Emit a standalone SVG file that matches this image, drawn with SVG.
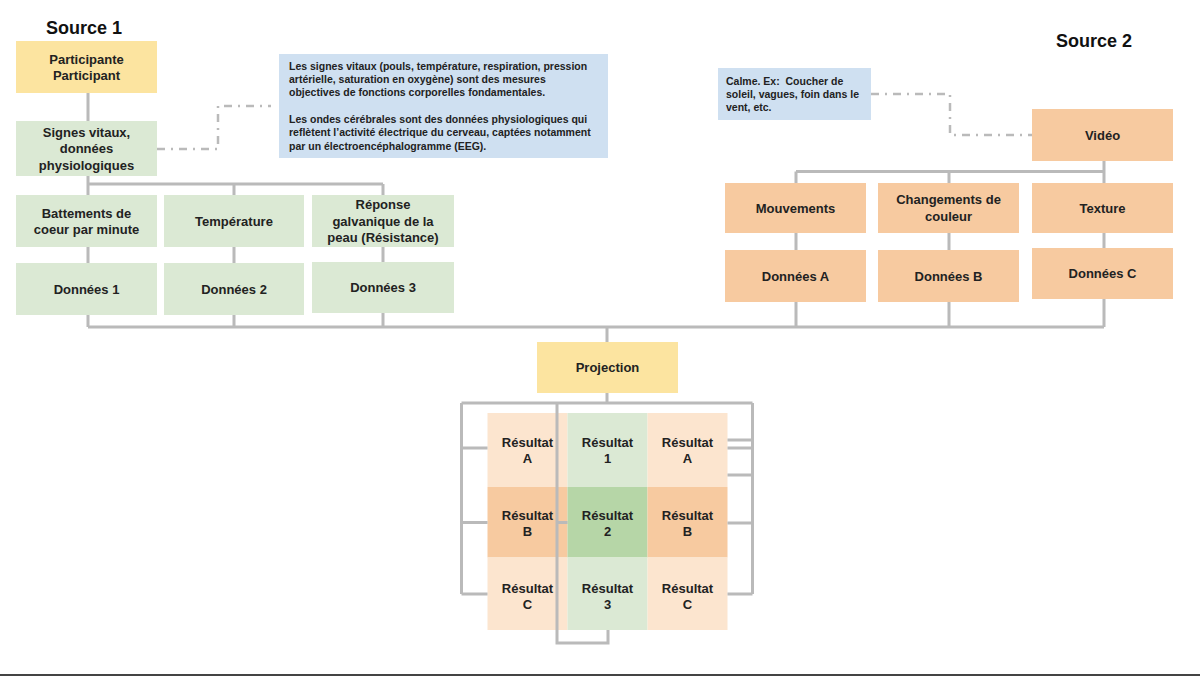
<svg xmlns="http://www.w3.org/2000/svg" width="1200" height="676" viewBox="0 0 1200 676">
<style>
text{font-family:"Liberation Sans",Arial,sans-serif;font-weight:bold;fill:#222}
.t{font-size:13px;text-anchor:middle}
.n{font-size:10.5px}
.h{font-size:18px;fill:#111}
.yel{fill:#fce4a0}
.grn{fill:#dbe9d4}
.blu{fill:#cfe0f1}
.org{fill:#f7caa0}
.lorg{fill:#fce5cf}
.mgrn{fill:#b6d6a7}
.c{fill:none;stroke:#bababa;stroke-width:3}
.d{fill:none;stroke:#bababa;stroke-width:2.5;stroke-dasharray:8 6 2 6}
</style>
<rect width="1200" height="676" fill="#ffffff"/>
<text class="h" x="46" y="34">Source 1</text>
<text class="h" x="1056" y="46.5">Source 2</text>

<g id="participant"><rect class="yel" x="16" y="41" width="141" height="52"/><text class="t" x="86.5" y="64">Participante</text><text class="t" x="86.5" y="80">Participant</text></g>
<g id="signes"><rect class="grn" x="16" y="121" width="141" height="55"/><text class="t" x="86.5" y="136.5">Signes vitaux,</text><text class="t" x="86.5" y="153">données</text><text class="t" x="86.5" y="169.5">physiologiques</text></g>
<g id="note1"><rect class="blu" x="279" y="54" width="329" height="104"/>
<text class="n" x="289" y="70">Les signes vitaux (pouls, température, respiration, pression</text>
<text class="n" x="289" y="83">artérielle, saturation en oxygène) sont des mesures</text>
<text class="n" x="289" y="96">objectives de fonctions corporelles fondamentales.</text>
<text class="n" x="289" y="123">Les ondes cérébrales sont des données physiologiques qui</text>
<text class="n" x="289" y="136">reflètent l’activité électrique du cerveau, captées notamment</text>
<text class="n" x="289" y="150">par un électroencéphalogramme (EEG).</text></g>
<g id="battements"><rect class="grn" x="16" y="195" width="141" height="52"/><text class="t" x="86.5" y="217.5">Battements de</text><text class="t" x="86.5" y="234">coeur par minute</text></g>
<g id="temperature"><rect class="grn" x="164" y="195" width="140" height="52"/><text class="t" x="234" y="225.5">Température</text></g>
<g id="reponse"><rect class="grn" x="312" y="195" width="142" height="52"/><text class="t" x="383" y="209">Réponse</text><text class="t" x="383" y="225.5">galvanique de la</text><text class="t" x="383" y="242">peau (Résistance)</text></g>
<g id="donnees1"><rect class="grn" x="16" y="263" width="141" height="52"/><text class="t" x="86.5" y="293.5">Données 1</text></g>
<g id="donnees2"><rect class="grn" x="164" y="263" width="140" height="52"/><text class="t" x="234" y="293.5">Données 2</text></g>
<g id="donnees3"><rect class="grn" x="312" y="262" width="142" height="51"/><text class="t" x="383" y="292">Données 3</text></g>

<g id="note2"><rect class="blu" x="718" y="68" width="153" height="52"/>
<text class="n" x="726" y="84.5">Calme. Ex:&#160; Coucher de</text>
<text class="n" x="726" y="97.5">soleil, vagues, foin dans le</text>
<text class="n" x="726" y="110.5">vent, etc.</text></g>
<g id="video"><rect class="org" x="1032" y="109" width="141" height="52"/><text class="t" x="1102.5" y="139.5">Vidéo</text></g>
<g id="mouvements"><rect class="org" x="725" y="183" width="141" height="50"/><text class="t" x="795.5" y="212.5">Mouvements</text></g>
<g id="changements"><rect class="org" x="878" y="183" width="141" height="50"/><text class="t" x="948.5" y="204">Changements de</text><text class="t" x="948.5" y="220.5">couleur</text></g>
<g id="texture"><rect class="org" x="1032" y="183" width="141" height="50"/><text class="t" x="1102.5" y="212.5">Texture</text></g>
<g id="donneesA"><rect class="org" x="725" y="250" width="141" height="52"/><text class="t" x="795.5" y="280.5">Données A</text></g>
<g id="donneesB"><rect class="org" x="878" y="250" width="141" height="52"/><text class="t" x="948.5" y="280.5">Données B</text></g>
<g id="donneesC"><rect class="org" x="1032" y="248" width="141" height="51"/><text class="t" x="1102.5" y="278">Données C</text></g>

<g id="projection"><rect class="yel" x="537" y="342" width="141" height="51"/><text class="t" x="607.5" y="372">Projection</text></g>

<g id="resA1"><rect class="lorg" x="487.5" y="413" width="80" height="74"/><text class="t" x="527.5" y="446.5">Résultat</text><text class="t" x="527.5" y="462.5">A</text></g>
<g id="res1"><rect class="grn" x="567.5" y="413" width="80" height="74"/><text class="t" x="607.5" y="446.5">Résultat</text><text class="t" x="607.5" y="462.5">1</text></g>
<g id="resA2"><rect class="lorg" x="647.5" y="413" width="80" height="74"/><text class="t" x="687.5" y="446.5">Résultat</text><text class="t" x="687.5" y="462.5">A</text></g>
<g id="resB1"><rect class="org" x="487.5" y="487" width="80" height="70.5"/><text class="t" x="527.5" y="519.5">Résultat</text><text class="t" x="527.5" y="536">B</text></g>
<g id="res2"><rect class="mgrn" x="567.5" y="487" width="80" height="70.5"/><text class="t" x="607.5" y="519.5">Résultat</text><text class="t" x="607.5" y="536">2</text></g>
<g id="resB2"><rect class="org" x="647.5" y="487" width="80" height="70.5"/><text class="t" x="687.5" y="519.5">Résultat</text><text class="t" x="687.5" y="536">B</text></g>
<g id="resC1"><rect class="lorg" x="487.5" y="557.5" width="80" height="72.5"/><text class="t" x="527.5" y="592.5">Résultat</text><text class="t" x="527.5" y="608.5">C</text></g>
<g id="res3"><rect class="grn" x="567.5" y="557.5" width="80" height="72.5"/><text class="t" x="607.5" y="592.5">Résultat</text><text class="t" x="607.5" y="608.5">3</text></g>
<g id="resC2"><rect class="lorg" x="647.5" y="557.5" width="80" height="72.5"/><text class="t" x="687.5" y="592.5">Résultat</text><text class="t" x="687.5" y="608.5">C</text></g>

<g id="connectors">
<path class="c" d="M88 93V121M88 176V184M88 184H383M88 184V195M234 184V195M383 184V195M88 247V263M234 247V263M383 247V262M88 315V327M234 315V327M383 313V327M88 327H1104"/>
<path class="c" d="M1104 161V171.5M796 171.5H1104M796 171.5V183M949 171.5V183M1104 171.5V183M796 233V250M949 233V250M1104 233V248M796 302V327M949 302V327M1104 299V327M607 327V342"/>
<path class="c" d="M607 393V403M461.5 403H752.5M461.5 403V594M461.5 448H487.5M461.5 522.5H487.5M461.5 594H487.5M752.5 403V594M727.5 440H752.5M727.5 448H752.5M727.5 475H752.5M727.5 523H752.5M727.5 594H752.5"/>
<path class="c" d="M557 403V643H608V630M557 522.5H567.5"/>
<path class="d" d="M157 149H218V106H271"/>
<path class="d" d="M871 94H950V135H1032"/>
</g>
<line x1="0" y1="675" x2="1200" y2="675" stroke="#444" stroke-width="2"/>
</svg>
